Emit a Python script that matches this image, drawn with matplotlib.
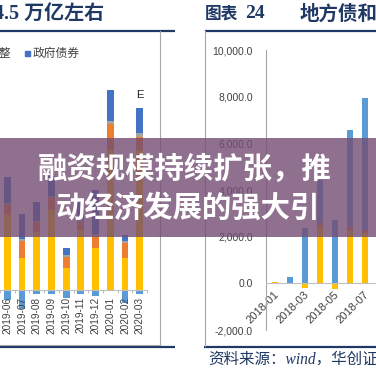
import matplotlib
matplotlib.use('Agg')
import matplotlib.pyplot as plt
from matplotlib.patches import Rectangle
from matplotlib.transforms import ScaledTranslation
import numpy as np

W = H = 376
DPI = 100

# ---------------- data ----------------
# left chart (monthly social financing flow, 亿元)
left_months = ['2019-06', '2019-07', '2019-08', '2019-09', '2019-10',
               '2019-11', '2019-12', '2020-01', '2020-02', '2020-03']
left_loans = [18750, 8000, 14500, 20000, 5500, 15000, 10500, 35000, 8000, 35000]
left_corp = [2500, 4250, 2500, 3000, 2750, 2000, 3000, 6500, 3750, 3250]
left_other = [500, 500, 250, 500, 500, 500, 500, 750, 500, 1000]
left_gov = [6500, 6250, 4750, 5000, 1750, 4500, 11000, 7750, 1500, 6250]
left_bills = [-2500, -4750, -1000, -1000, -2000, -1000, -1500, 0, -3250, -1000]
left_note = 'E'

# right chart (local government bonds, 亿元)
right_months = ['2018-01', '2018-02', '2018-03', '2018-04',
                '2018-05', '2018-06', '2018-07']
right_general = [50, 0, -200, 2400, -230, 2250, 2150]
right_other = [0, 0, 0, 200, 0, 150, 150]
right_special = [0, 260, 2360, 1820, 2700, 4170, 5640]
right_yticks = [-2000, 0, 2000, 4000, 6000, 8000, 10000]

# texts
left_title = '4.5 万亿左右'
right_title_a = '图表'
right_title_b = '24'
right_title_c = '地方债和发行规模'
legend_prev = '调整'
legend_label = '政府债券'
source_text = '资料来源：wind，华创证券'
banner_lines = ['融资规模持续扩张，推', '动经济发展的强大引']

NAVY = '#1f3864'
GRAY_LINE = '#bfbfbf'
TXT = '#404040'
C_YEL = '#FFC000'
C_ORG = '#ED7D31'
C_GRY = '#A5A5A5'
C_BLU = '#4472C4'
C_LBL = '#5B9BD5'

fig = plt.figure(figsize=(W / DPI, H / DPI), dpi=DPI)
fig.patch.set_facecolor('white')


def ax_at(x0, y0, x1, y1, z):
    a = fig.add_axes([x0 / W, 1 - y1 / H, (x1 - x0) / W, (y1 - y0) / H], zorder=z)
    a.patch.set_alpha(0)
    return a


# ---------------- background decorations ----------------
bg = ax_at(0, 0, W, H, 0)
bg.set_xlim(0, W)
bg.set_ylim(H, 0)
bg.axis('off')

bg.text(-6, 14, left_title, ha='left', va='center', fontsize=14.4, fontweight='bold',
        color=NAVY, family=['Liberation Serif', 'Noto Sans CJK SC'])
bg.text(205, 14, right_title_a, ha='left', va='center', fontsize=12, fontweight='bold',
        color=NAVY, family=['Noto Sans CJK SC'])
bg.text(245, 14, right_title_b, ha='left', va='center', fontsize=14, fontweight='bold',
        color=NAVY, family=['Liberation Serif'])
bg.text(300, 14, right_title_c, ha='left', va='center', fontsize=14, fontweight='bold',
        color=NAVY, family=['Noto Sans CJK SC'])

for (xa, xb, y) in [(0, 175, 30.5), (205, 376, 30.5), (0, 175, 347), (204, 376, 346.5)]:
    bg.plot([xa, xb], [y, y], color=NAVY, lw=1.6, solid_capstyle='butt')

# chart frames
bg.plot([160, 160], [31, 345], color='#a6a6a6', lw=0.8)
bg.plot([0, 160], [345, 345], color='#a6a6a6', lw=0.8)
bg.plot([204.5, 204.5], [31, 346], color='#a6a6a6', lw=0.8)

# legend fragment
bg.text(11, 53, legend_prev, ha='right', va='center', fontsize=8.5, color=TXT,
        family=['Noto Sans CJK SC'])
bg.add_patch(Rectangle((25, 51), 4.5, 4.5, color=C_BLU))
bg.text(33, 53, legend_label, ha='left', va='center', fontsize=8.5, color=TXT,
        family=['Noto Sans CJK SC'])

# source
bg.text(208, 360, source_text, ha='left', va='center', fontsize=11.2, style='italic',
        color=NAVY, family=['Liberation Serif', 'Noto Sans CJK SC'])

# ---------------- left chart ----------------
ax1 = ax_at(0, 40, 147, 345, 1)
xl = np.arange(len(left_months))
ax1.set_xlim(-2 / 15.25, len(left_months) - 0.5)
ax1.set_ylim(-(345 - 290) * 250, (290 - 40) * 250)
wl = 0.46
bot = np.zeros(len(xl))
for vals, col in [(left_loans, C_YEL), (left_corp, C_ORG), (left_other, C_GRY), (left_gov, C_BLU)]:
    ax1.bar(xl, vals, bottom=bot, width=wl, color=col, linewidth=0)
    bot = bot + np.array(vals)
ax1.bar(xl, left_bills, width=wl, color=C_LBL, linewidth=0)
ax1.annotate(left_note, (xl[-1], bot[-1]), xytext=(0, 6), textcoords='offset points',
             ha='center', va='bottom', fontsize=8, color='#222222', family='Liberation Sans')

for s in ['top', 'right', 'left']:
    ax1.spines[s].set_visible(False)
ax1.spines['bottom'].set_position(('data', 0))
ax1.spines['bottom'].set_color(GRAY_LINE)
ax1.spines['bottom'].set_linewidth(0.8)
ax1.set_yticks([])
ax1.set_xticks(xl)
ax1.set_xticklabels(left_months, rotation=90, fontsize=7.2, color=TXT, family='Liberation Sans')
ax1.tick_params(axis='x', which='major', length=0, pad=5)
ax1.set_xticks(np.arange(-0.5, len(left_months), 1), minor=True)
ax1.tick_params(axis='x', which='minor', length=2.5, width=0.7, color=GRAY_LINE, direction='out')

# ---------------- right chart ----------------
ax2 = ax_at(266, 50, 382, 330, 1)
xr = np.arange(len(right_months))
ax2.set_xlim(-8.5 / 15, (382 - 274.5) / 15)
ax2.set_ylim(-2000, 10000)
wr = 0.4
gen = np.array(right_general, dtype=float)
oth = np.array(right_other, dtype=float)
ax2.bar(xr, gen, width=wr, color=C_YEL, linewidth=0)
base = np.maximum(gen, 0)
ax2.bar(xr, oth, bottom=base, width=wr, color=C_ORG, linewidth=0)
ax2.bar(xr, right_special, bottom=base + oth, width=wr, color=C_LBL, linewidth=0)

for s in ['top', 'right']:
    ax2.spines[s].set_visible(False)
ax2.spines['bottom'].set_position(('data', 0))
ax2.spines['bottom'].set_color(GRAY_LINE)
ax2.spines['left'].set_color('#a6a6a6')
ax2.spines['bottom'].set_linewidth(0.8)
ax2.spines['left'].set_linewidth(0.8)
ax2.set_yticks(right_yticks)
ax2.set_yticklabels([f'{v:,.1f}' for v in right_yticks], fontsize=7.5, color=TXT,
                    family='Liberation Sans')
ax2.tick_params(axis='y', length=0, pad=9.5)
ax2.set_xticks(xr[::2])
ax2.set_xticklabels(right_months[::2], fontsize=8, color=TXT, family='Liberation Sans')
ax2.tick_params(axis='x', length=0, pad=7)
for lab in ax2.get_xticklabels():
    lab.set_rotation(45)
    lab.set_ha('right')
    lab.set_va('center')
    lab.set_rotation_mode('anchor')
    lab.set_transform(lab.get_transform() + ScaledTranslation(3 / DPI, 0, fig.dpi_scale_trans))

# ---------------- banner overlay ----------------
ov = ax_at(0, 0, W, H, 10)
ov.set_xlim(0, W)
ov.set_ylim(H, 0)
ov.axis('off')
ov.add_patch(Rectangle((0, 138), W, 99, color='#734E73', alpha=0.8, linewidth=0))
ov.text(185, 169, banner_lines[0], ha='center', va='center', fontsize=21.2,
        fontweight='bold', color='white', family=['Noto Sans CJK SC'])
ov.text(187.5, 208, banner_lines[1], ha='center', va='center', fontsize=21.2,
        fontweight='bold', color='white', family=['Noto Sans CJK SC'])

fig.savefig('out.png', dpi=DPI)
